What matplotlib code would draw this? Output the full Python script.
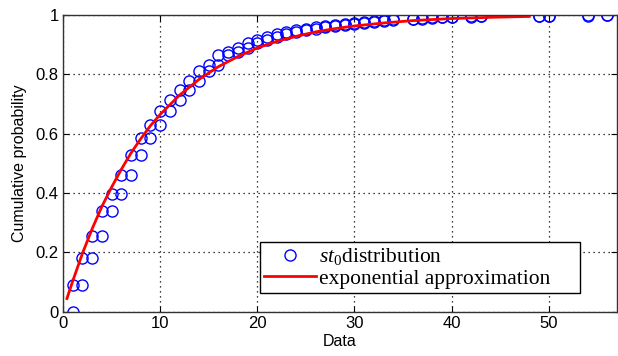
import numpy as np
import matplotlib
matplotlib.use("Agg")
import matplotlib.pyplot as plt

# empirical cdf of st0 (value -> cumulative probability)
data_x = [1, 2, 3, 4, 5, 6, 7, 8, 9, 10, 11, 12, 13, 14, 15, 16, 17, 18, 19, 20,
          21, 22, 23, 24, 25, 26, 27, 28, 29, 30, 31, 32, 33, 34, 36, 37, 38, 39,
          40, 42, 43, 49, 50, 54, 56]
cdf_y = [0.092, 0.18, 0.257, 0.34, 0.397, 0.461, 0.527, 0.587, 0.63, 0.677,
         0.714, 0.747, 0.778, 0.811, 0.83, 0.865, 0.875, 0.89, 0.905, 0.915,
         0.925, 0.935, 0.942, 0.948, 0.953, 0.958, 0.962, 0.966, 0.970, 0.974,
         0.977, 0.980, 0.983, 0.985, 0.988, 0.990, 0.992, 0.993, 0.994, 0.995,
         0.996, 0.997, 0.998, 0.999, 1.0]

# exponential approximation
exp_x = [0.4, 1, 2, 3, 4, 5, 6, 7, 8, 9, 10, 12, 14, 16, 18, 20, 22, 24, 26,
         28, 30, 33, 36, 40, 44, 48]
exp_y = [0.045, 0.104, 0.197, 0.28, 0.355, 0.42, 0.48, 0.535, 0.583, 0.627,
         0.665, 0.73, 0.783, 0.826, 0.86, 0.889, 0.911, 0.928, 0.943, 0.954,
         0.963, 0.973, 0.981, 0.988, 0.992, 0.995]

# stairs-style points: (x_i, F_{i-1}) and (x_i, F_i)
stair_x = np.repeat(data_x, 2)
stair_y = np.empty(len(stair_x))
stair_y[0::2] = [0] + cdf_y[:-1]
stair_y[1::2] = cdf_y

plt.rcParams['font.family'] = ['Liberation Sans', 'DejaVu Sans']
plt.rcParams['mathtext.fontset'] = 'custom'
plt.rcParams['mathtext.rm'] = 'Liberation Serif'
plt.rcParams['mathtext.it'] = 'Liberation Serif:italic'

fig = plt.figure(figsize=(6.18, 3.56), dpi=100)
ax = fig.add_axes([0.102, 0.124, 0.896, 0.834])

ax.plot(stair_x, stair_y, 'o', color=(0, 0, 1), markerfacecolor='none',
        markersize=8, markeredgewidth=1.0, label=r'$st_{\mathit{0}}$distribution')
ax.plot(exp_x, exp_y, '-', color=(1, 0, 0), linewidth=2.0,
        label='exponential approximation')

ax.set_xlim(0, 57)
ax.set_ylim(0, 1)
ax.set_xticks([0, 10, 20, 30, 40, 50])
ax.set_yticks([0, 0.2, 0.4, 0.6, 0.8, 1])
ax.set_yticklabels(['0', '0.2', '0.4', '0.6', '0.8', '1'])
ax.tick_params(direction='in', top=True, right=True, labelsize=12, length=4, pad=3)
ax.grid(True, linestyle=(0, (1, 3)), color='black', linewidth=0.9)
for s in ax.spines.values():
    s.set_linewidth(1.0)
    s.set_color('#333333')

ax.set_xlabel('Data', fontsize=11.5, labelpad=2)
ax.set_ylabel('Cumulative probability', fontsize=11.5, labelpad=6)

leg = ax.legend(loc='lower left', bbox_to_anchor=(0.356, 0.064, 0.578, 0.2),
                mode='expand', fancybox=False, framealpha=1, edgecolor='black',
                prop={'family': 'Liberation Serif', 'size': 15.5},
                handlelength=2.4, handletextpad=0.15, borderpad=0.2,
                labelspacing=0.05, borderaxespad=0)
leg.get_frame().set_linewidth(1.0)

plt.savefig('out.png', dpi=100)
